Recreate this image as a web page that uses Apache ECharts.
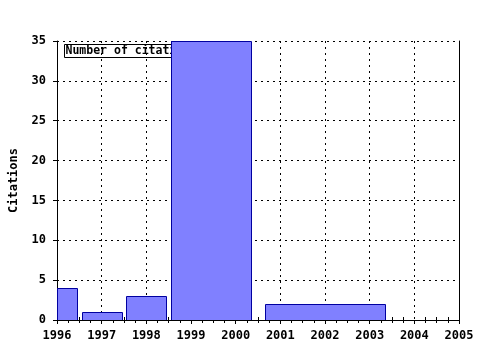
<!DOCTYPE html>
<html><head><meta charset="utf-8">
<script src="https://cdn.jsdelivr.net/npm/echarts@6/dist/echarts.min.js"></script>
<style>html,body{margin:0;padding:0;background:#fff}#c{width:480px;height:350px}</style>
</head><body><div id="c"></div>
<script>
var barStart = [1995.55, 1996.56, 1997.55, 1998.56, 2000.66];
var barEnd   = [1996.45, 1997.46, 1998.45, 2000.35, 2003.35];
var barValue = [4, 1, 3, 35, 2];
var yTicks = [0, 5, 10, 15, 20, 25, 30, 35];
var xMin = 1996, xMax = 2005;
var legendLabel = 'Number of citations';
var yTitle = 'Citations';

var data = barStart.map(function(s, i){ return [s, barEnd[i], barValue[i]]; });
var font = 'DejaVu Sans Mono';
var chart = echarts.init(document.getElementById('c'));
var axisLine = {show:true, lineStyle:{color:'#000', width:1}};
chart.setOption({
  animation:false,
  grid:{left:57, right:21, top:41, bottom:30, containLabel:false, outerBoundsMode:'none'},
  xAxis:[{
    type:'value', min:xMin, max:xMax, interval:1, position:'bottom',
    axisLine:axisLine,
    axisTick:{show:true, length:4, inside:false, lineStyle:{color:'#000'}},
    minorTick:{show:true, splitNumber:4, length:3, lineStyle:{color:'#000'}},
    axisLabel:{color:'#000', fontFamily:font, fontWeight:'bold', fontSize:12, margin:10, formatter:function(v){return String(v);}},
    splitLine:{show:true, lineStyle:{color:'#000', type:[2,4], width:1}}
  },{
    type:'value', min:xMin, max:xMax, interval:1, position:'top',
    axisLine:axisLine,
    axisTick:{show:false},
    minorTick:{show:true, splitNumber:4, length:3, lineStyle:{color:'#000'}},
    axisLabel:{show:false}, splitLine:{show:false}
  }],
  yAxis:[{
    type:'value', min:yTicks[0], max:yTicks[yTicks.length-1], interval:5, position:'left',
    name:yTitle, nameLocation:'middle', nameGap:37, nameRotate:90,
    nameTextStyle:{color:'#000', fontFamily:font, fontWeight:'bold', fontSize:12},
    axisLine:axisLine,
    axisTick:{show:true, length:4, inside:false, lineStyle:{color:'#000'}},
    axisLabel:{color:'#000', fontFamily:font, fontWeight:'bold', fontSize:12, margin:11},
    splitLine:{show:true, lineStyle:{color:'#000', type:[2,4], width:1}}
  },{
    type:'value', min:yTicks[0], max:yTicks[yTicks.length-1], interval:5, position:'right',
    axisLine:axisLine, axisTick:{show:false}, axisLabel:{show:false}, splitLine:{show:false}
  }],
  graphic:[{
    type:'group', left:64, top:44, z:1,
    children:[
      {type:'rect', shape:{x:0, y:0, width:140, height:13}, style:{fill:'#fff', stroke:'#000', lineWidth:1}},
      {type:'text', x:1, y:1, style:{text:legendLabel, fill:'#000', font:'bold 11.5px "DejaVu Sans Mono"'}}
    ]
  }],
  series:[{
    type:'custom', z:5, xAxisIndex:0, yAxisIndex:0,
    clip:true,
    data:data,
    renderItem:function(params, api){
      var p0 = api.coord([Math.max(api.value(0), xMin), api.value(2)]);
      var p1 = api.coord([api.value(1), 0]);
      return {type:'rect', shape:{x:Math.round(p0[0])+0.5, y:Math.round(p0[1])+0.5, width:Math.round(p1[0]-p0[0]), height:Math.round(p1[1]-p0[1])},
        style:{fill:'#8080ff', stroke:'#0000a0', lineWidth:1}};
    }
  }]
});
</script></body></html>
